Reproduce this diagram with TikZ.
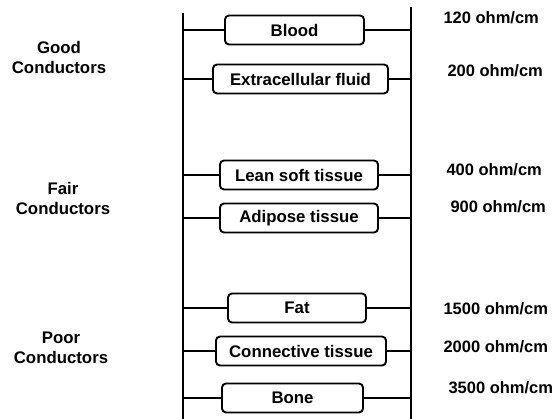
\documentclass[tikz,border=0pt]{standalone}
\usepackage{fontspec}
\setmainfont{Liberation Sans}
\begin{document}
\begin{tikzpicture}[x=1pt,y=-1pt,
  tissue/.style={draw, line width=1.9pt, rounded corners=4pt, minimum height=29pt, inner sep=0pt, font=\fontsize{16.8}{18}\selectfont\bfseries},
  cat/.style={align=center, font=\fontsize{16.8}{20}\selectfont\bfseries},
  val/.style={anchor=west, font=\fontsize{16.5}{18}\selectfont\bfseries},
  wire/.style={line width=1.9pt}]
\useasboundingbox (0,0) rectangle (557,419);
\coordinate (Lt) at (183,13);
\coordinate (Lb) at (183,419);
\coordinate (Rt) at (411,7);
\coordinate (Rb) at (411,419);
\draw[wire] (Lt) -- (Lb);
\draw[wire] (Rt) -- (Rb);
\node[tissue, minimum width=139pt] (b1) at (294.5,30) {Blood};
\node[tissue, minimum width=175pt] (b2) at (300.5,79) {Extracellular fluid};
\node[tissue, minimum width=158pt] (b3) at (299,175) {Lean soft tissue};
\node[tissue, minimum width=158pt] (b4) at (299,218) {Adipose tissue};
\node[tissue, minimum width=138pt] (b5) at (297,308) {Fat};
\node[tissue, minimum width=170pt] (b6) at (301,351) {Connective tissue};
\node[tissue, minimum width=141pt] (b7) at (292.5,398) {Bone};
\foreach \b in {b1,b2,b3,b4,b5,b6,b7}{
  \draw[wire] (\b.west) -- (\b.west -| Lt);
  \draw[wire] (\b.east) -- (\b.east -| Rt);
}
\node[cat] (g) at (59,57) {Good\\Conductors};
\node[cat] (f) at (63,198) {Fair\\Conductors};
\node[cat] (p) at (61,348) {Poor\\Conductors};
\node[val] (v1) at (440,18) {120 ohm/cm};
\node[val] (v2) at (444,71) {200 ohm/cm};
\node[val] (v3) at (443,170) {400 ohm/cm};
\node[val] (v4) at (447,207) {900 ohm/cm};
\node[val] (v5) at (440,309) {1500 ohm/cm};
\node[val] (v6) at (440,347) {2000 ohm/cm};
\node[val] (v7) at (445,388) {3500 ohm/cm};
\end{tikzpicture}
\end{document}
